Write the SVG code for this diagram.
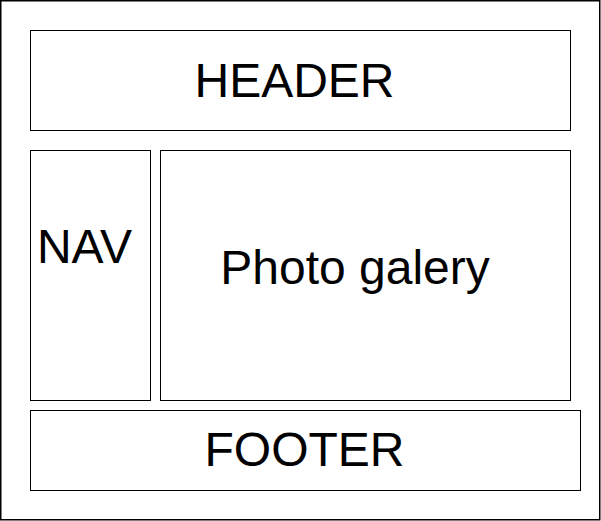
<svg xmlns="http://www.w3.org/2000/svg" width="601" height="521" viewBox="0 0 601 521">
<style>
.box{fill:#fff;stroke:#000;stroke-width:1}
.lbl{font-family:"Liberation Sans",Arial,sans-serif;font-size:48px;fill:#000;text-anchor:middle}
</style>
<rect x="0" y="0" width="601" height="521" fill="#fff"/>
<g id="page"><rect x="0.75" y="0.75" width="599" height="519" fill="#fff" stroke="#000" stroke-width="1.5"/></g>
<g id="header"><rect class="box" x="30.5" y="30.5" width="540" height="100"/><text class="lbl" x="294.5" y="97">HEADER</text></g>
<g id="nav"><rect class="box" x="30.5" y="150.5" width="120" height="250"/><text class="lbl" x="84.5" y="262.5">NAV</text></g>
<g id="gallery"><rect class="box" x="160.5" y="150.5" width="410" height="250"/><text class="lbl" x="355" y="284">Photo galery</text></g>
<g id="footer"><rect class="box" x="30.5" y="410.5" width="550" height="80"/><text class="lbl" x="304.5" y="466">FOOTER</text></g>
<g id="connectors"/>
</svg>
